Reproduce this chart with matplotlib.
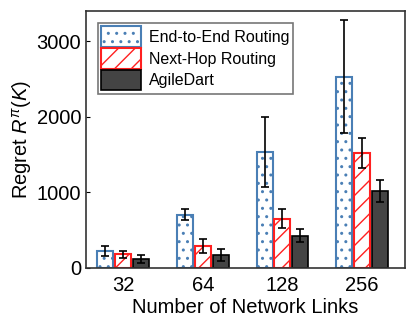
import matplotlib
matplotlib.use("Agg")
import matplotlib.pyplot as plt
import numpy as np

plt.rcParams['font.family'] = ['Liberation Sans', 'DejaVu Sans']
plt.rcParams['mathtext.fontset'] = 'custom'
plt.rcParams['mathtext.it'] = 'Liberation Sans:italic'
plt.rcParams['mathtext.rm'] = 'Liberation Sans'
plt.rcParams['hatch.linewidth'] = 1.0

links = ["32", "64", "128", "256"]
e2e = [225, 706, 1535, 2532]
e2e_err = [62, 75, 460, 750]
nexthop = [181, 291, 653, 1521]
nexthop_err = [50, 88, 128, 200]
agile = [119, 176, 428, 1019]
agile_err = [47, 79, 90, 150]

x = np.arange(len(links))
w = 0.2
gap = 0.225

fig = plt.figure(figsize=(4.16, 3.28), dpi=100)
ax = fig.add_axes([0.207, 0.183, 0.767, 0.783])

ekw = dict(ecolor="black", elinewidth=1.2, capsize=3, capthick=1.2)
plt.rcParams['hatch.color'] = '#4a7fb5'
ax.bar(x - gap, e2e, w, yerr=e2e_err, color="white", edgecolor="#4a7fb5",
       hatch="..", linewidth=1.5, label="End-to-End Routing", error_kw=ekw)
ax.bar(x, nexthop, w, yerr=nexthop_err, color="white", edgecolor="#ff2020",
       hatch="//", linewidth=1.5, label="Next-Hop Routing", error_kw=ekw)
ax.bar(x + gap, agile, w, yerr=agile_err, color="#444444", edgecolor="black",
       linewidth=1.2, label="AgileDart", error_kw=ekw)

ax.set_xlim(-0.464, 3.54)
ax.set_ylim(0, 3400)
ax.set_yticks([0, 1000, 2000, 3000])
ax.set_xticks(x)
ax.set_xticklabels(links)
ax.tick_params(axis="both", direction="in", labelsize=14.5, length=3)
ax.tick_params(axis="x", length=0, pad=6)
ax.set_xlabel("Number of Network Links", fontsize=14.5, labelpad=2)
ax.set_ylabel(r"Regret $R^{\pi}(K)$", fontsize=14.5, labelpad=2)
for s in ax.spines.values():
    s.set_linewidth(1.2)
    s.set_color("#333333")

leg = ax.legend(loc="upper left", fontsize=11.5, fancybox=False,
                handlelength=2.5, handleheight=1.6, borderpad=0.2,
                labelspacing=0.08, handletextpad=0.5, borderaxespad=0.75)
leg.get_frame().set_edgecolor("#555555")
leg.get_frame().set_linewidth(1.2)

fig.savefig("out.png", dpi=100)
